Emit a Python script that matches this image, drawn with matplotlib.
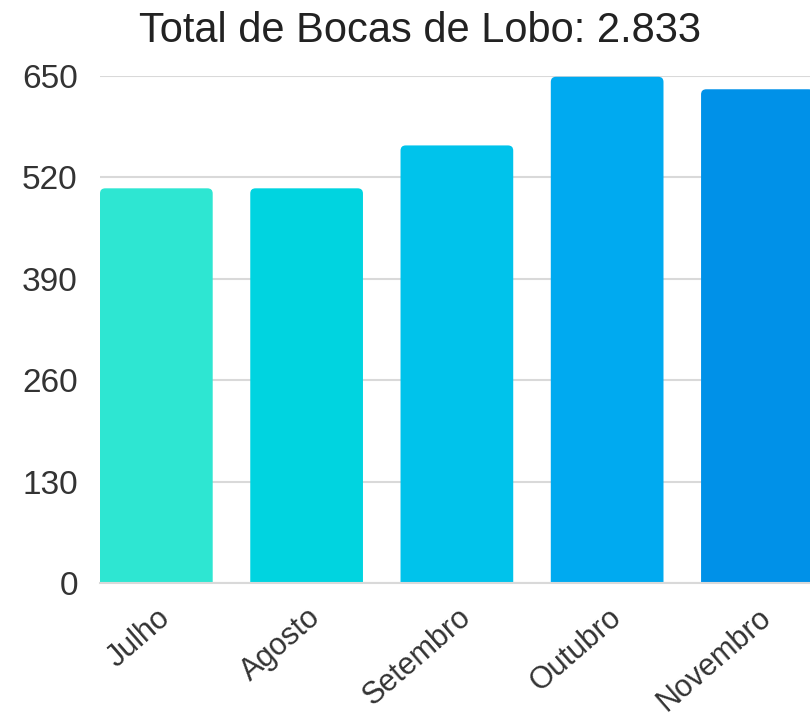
import matplotlib
matplotlib.use("Agg")
from matplotlib import pyplot as plt
from matplotlib.patches import FancyBboxPatch

months = ["Julho", "Agosto", "Setembro", "Outubro", "Novembro"]
counts = [506, 506, 561, 649, 633]
colors = ["#2EE6D2", "#00D4E0", "#00C3EB", "#00AAF0", "#0091E8"]
yticks = [0, 130, 260, 390, 520, 650]
title = "Total de Bocas de Lobo: 2.833"

plt.rcParams["font.family"] = ["Liberation Sans", "DejaVu Sans"]

fig = plt.figure(figsize=(8.1, 7.18), dpi=100)
ax = fig.add_axes([100 / 810, 135 / 718, 710 / 810, 507 / 718])

x = list(range(len(months)))
bars = ax.bar(x, counts, width=0.75, color=colors, zorder=2)

ax.set_ylim(0, 650)
ax.set_xlim(-0.375, 4.35)

# swap the plain bars for ones with slightly rounded corners
for b in bars:
    b.set_visible(False)
    rounded = FancyBboxPatch((b.get_x(), -15), b.get_width(), b.get_height() + 15,
                             boxstyle="round,pad=0,rounding_size=0.035",
                             mutation_aspect=190, facecolor=b.get_facecolor(),
                             edgecolor="none", zorder=2)
    ax.add_patch(rounded)

ax.set_yticks(yticks)
ax.set_yticklabels([str(v) for v in yticks], fontsize=24, color="#333333")
ax.set_xticks(x)
ax.set_xticklabels(months, rotation=41, ha="right", rotation_mode="anchor",
                   fontsize=22, color="#333333")
ax.tick_params(axis="both", length=0)
ax.tick_params(axis="y", pad=16)
ax.tick_params(axis="x", pad=14)

ax.grid(axis="y", color="#d9d9d9", linewidth=1.5, zorder=0)
for side in ["top", "right", "left"]:
    ax.spines[side].set_visible(False)
ax.spines["bottom"].set_color("#d9d9d9")
ax.spines["bottom"].set_linewidth(1.5)

fig.text(0.518, 0.957, title, ha="center", va="center", fontsize=30, color="#222222")

fig.savefig("out.png", dpi=100)
